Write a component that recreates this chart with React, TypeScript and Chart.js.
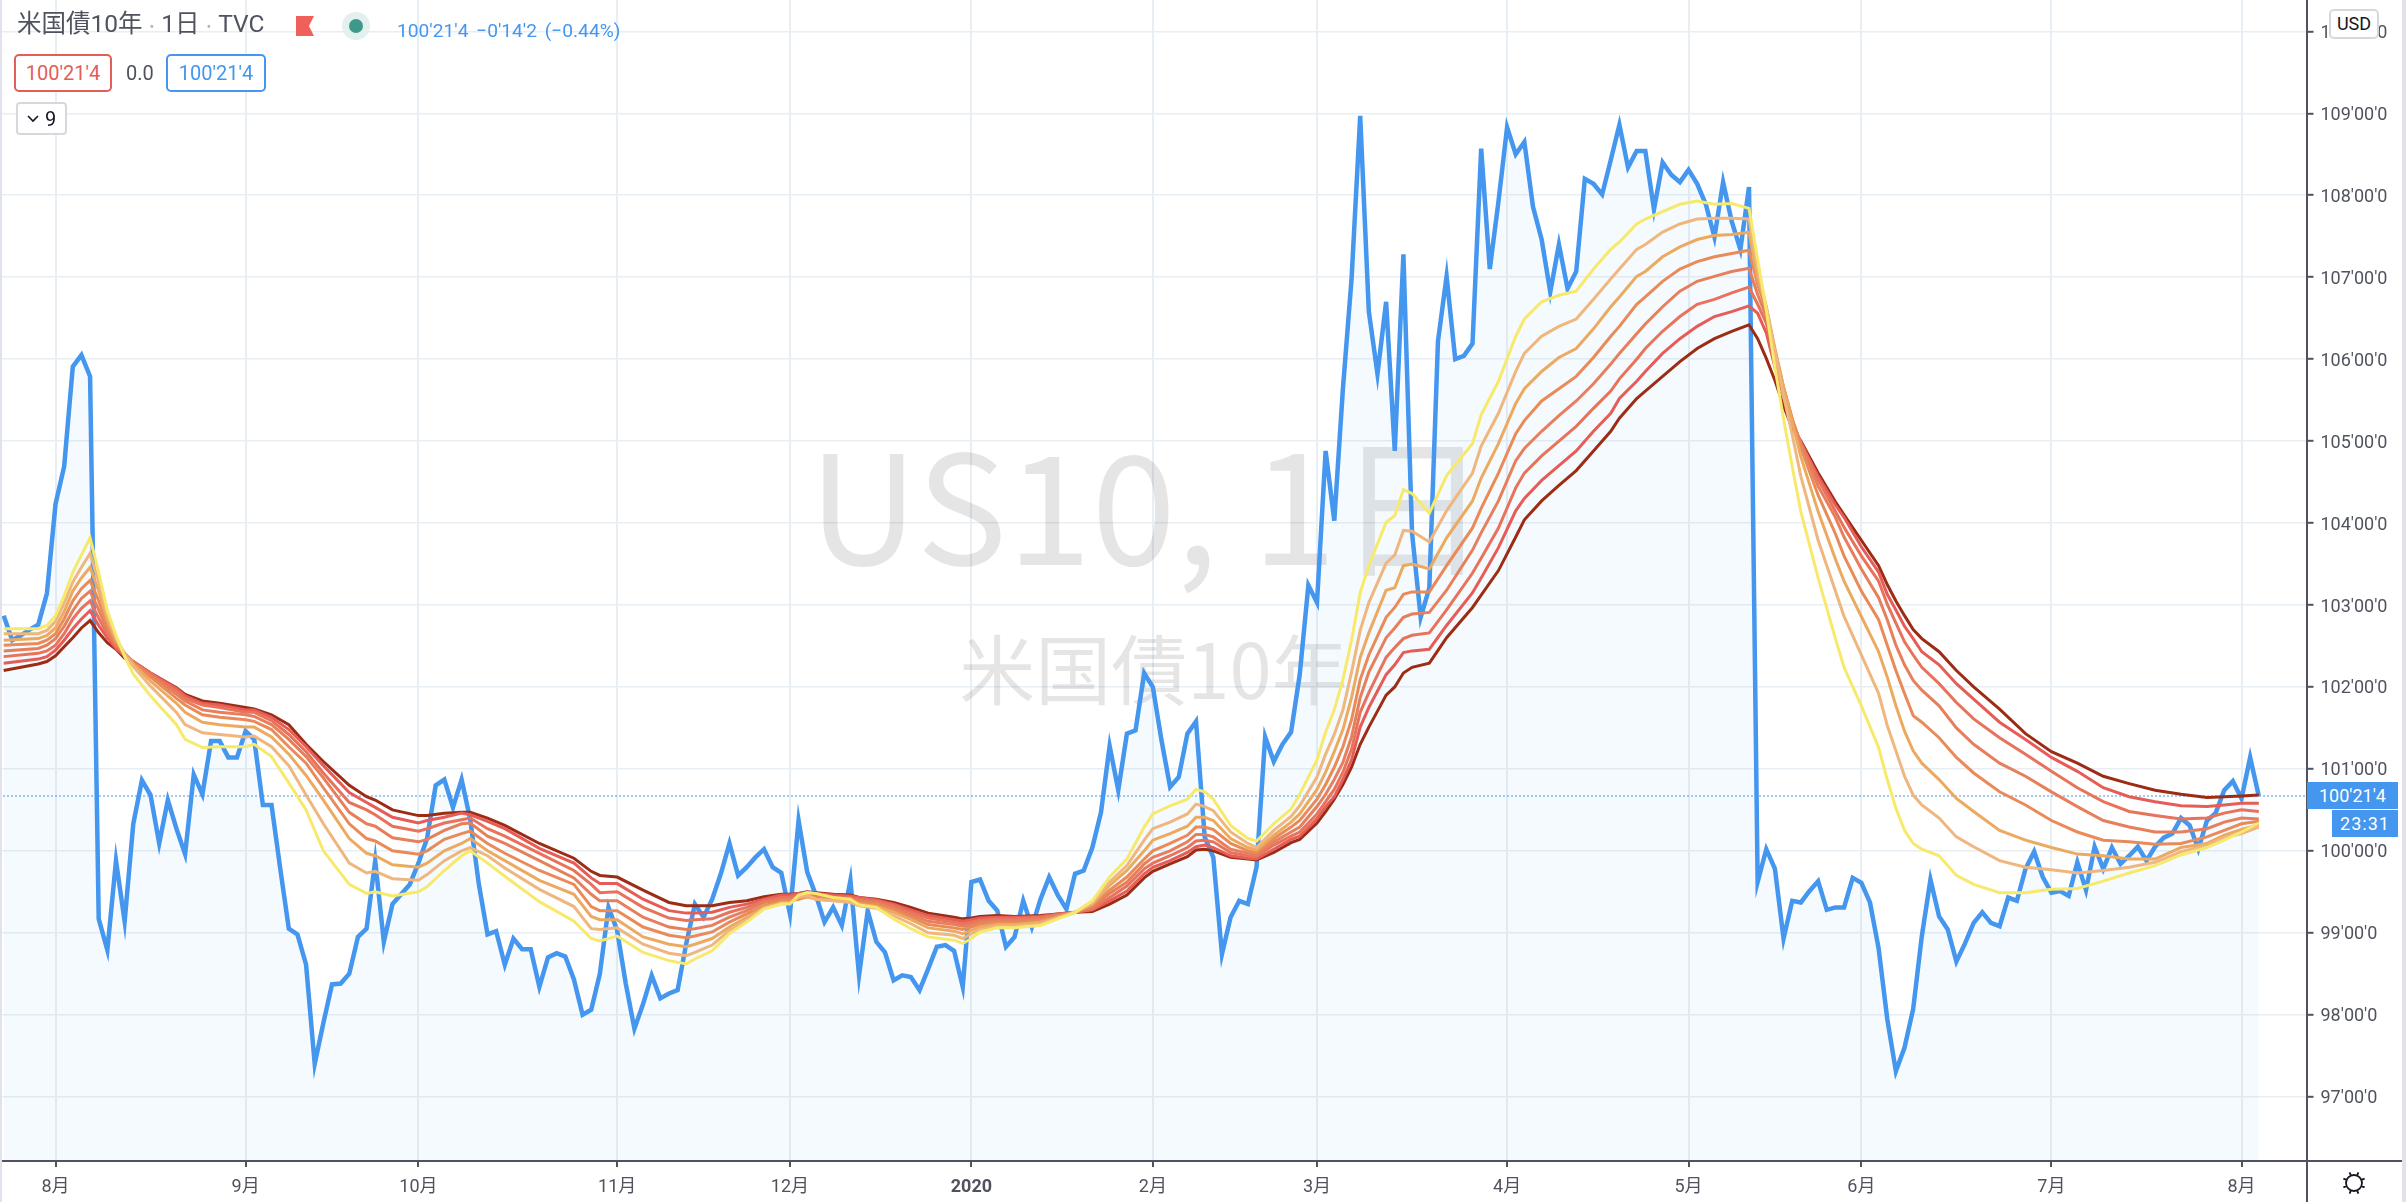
import React, { useEffect, useRef } from "react";
import Chart from "chart.js/auto";

// ---- data ----
const monthTickIdx = [6, 28, 48, 71, 91, 112, 133, 152, 174, 195, 215, 237, 259];
const monthLabels = ["8月", "9月", "10月", "11月", "12月", "2020", "2月", "3月", "4月", "5月", "6月", "7月", "8月"];
const priceTicks = [97, 98, 99, 100, 101, 102, 103, 104, 105, 106, 107, 108, 109, 110];
const lastPrice = 100.669;

const closeValues = [
  102.87,102.57,102.63,102.70,102.76,103.14,104.23,104.69,105.91,106.05,
  105.79,99.17,98.79,99.88,99.14,100.33,100.86,100.68,100.09,100.62,
  100.27,99.96,100.93,100.69,101.34,101.34,101.14,101.14,101.46,101.36,
  100.56,100.56,99.79,99.05,98.98,98.61,97.40,97.90,98.37,98.38,
  98.50,98.95,99.05,99.88,98.89,99.35,99.47,99.59,99.85,100.15,
  100.80,100.87,100.53,100.87,100.38,99.59,98.98,99.02,98.61,98.93,
  98.80,98.80,98.34,98.70,98.75,98.71,98.43,98.00,98.06,98.50,
  99.31,99.03,98.38,97.83,98.13,98.48,98.20,98.26,98.30,98.87,
  99.35,99.19,99.41,99.72,100.09,99.70,99.80,99.92,100.02,99.80,
  99.73,99.23,100.37,99.74,99.46,99.13,99.31,99.09,99.64,98.48,
  99.27,98.89,98.76,98.42,98.48,98.46,98.30,98.56,98.83,98.85,
  98.78,98.34,99.62,99.65,99.39,99.27,98.83,98.95,99.39,99.07,
  99.41,99.68,99.46,99.29,99.72,99.76,100.04,100.47,101.28,100.74,
  101.43,101.47,102.17,102.00,101.35,100.78,100.90,101.43,101.58,100.17,
  99.92,98.74,99.19,99.39,99.35,99.80,101.39,101.09,101.30,101.45,
  102.15,103.24,103.03,104.88,104.03,105.64,106.98,108.97,106.58,105.82,
  106.70,104.88,107.28,103.88,102.85,103.21,106.22,107.01,106.00,106.04,
  106.19,108.57,107.10,107.92,108.83,108.50,108.65,107.86,107.46,106.82,
  107.40,106.86,107.07,108.20,108.14,108.01,108.43,108.86,108.34,108.54,
  108.54,107.83,108.40,108.25,108.16,108.31,108.14,107.89,107.49,108.16,
  107.68,107.34,108.10,99.62,100.02,99.78,98.93,99.39,99.37,99.51,
  99.63,99.28,99.31,99.31,99.67,99.61,99.37,98.81,97.95,97.31,
  97.60,98.07,98.96,99.65,99.20,99.04,98.65,98.87,99.12,99.25,
  99.12,99.08,99.43,99.39,99.78,99.99,99.68,99.49,99.51,99.45,
  99.86,99.52,100.05,99.78,100.04,99.84,99.94,100.05,99.88,100.05,
  100.16,100.21,100.40,100.31,100.02,100.37,100.46,100.74,100.85,100.64,
  101.14,100.67,
];

const ribbonIdx = [
  0,4,5,6,7,8,9,10,11,12,13,14,15,17,20,21,23,25,28,29,31,33,35,37,40,42,43,45,48,49,51,53,54,56,58,62,66,68,
  69,71,74,77,79,80,82,84,86,88,90,91,92,93,94,96,98,99,101,103,105,107,110,111,112,113,115,117,120,122,124,126,128,130,132,133,135,137,138,139,140,142,144,145,147,
  149,150,152,153,154,155,156,157,158,160,161,162,163,165,167,170,171,173,175,176,178,180,182,184,186,187,189,190,192,194,196,198,200,202,
  203,204,205,206,207,208,210,212,213,215,217,218,219,220,221,222,224,226,228,231,234,237,240,243,246,249,252,255,257,259,261,
];

const ma1 = [
  102.71,102.71,102.75,102.87,103.11,103.40,103.61,103.82,103.40,102.93,102.63,102.37,102.16,101.89,101.54,101.36,101.26,101.27,101.27,101.30,101.15,100.83,100.50,100.00,99.59,99.48,99.50,99.45,99.50,99.56,99.76,99.94,100.00,99.85,99.69,99.38,99.14,98.93,
  98.90,98.96,98.76,98.66,98.62,98.68,98.78,98.99,99.13,99.29,99.35,99.35,99.46,99.49,99.48,99.43,99.41,99.34,99.31,99.17,99.05,98.95,98.91,98.87,98.93,99.01,99.06,99.06,99.09,99.17,99.25,99.39,99.68,99.90,100.29,100.45,100.55,100.63,100.75,100.72,100.63,100.31,100.15,100.12,100.33,
  100.51,100.69,101.11,101.45,101.72,102.09,102.57,103.15,103.48,104.01,104.09,104.41,104.36,104.12,104.58,104.97,105.32,105.73,106.28,106.49,106.70,106.78,106.83,107.10,107.34,107.43,107.65,107.71,107.80,107.89,107.93,107.89,107.90,107.84,
  107.22,106.60,105.90,105.27,104.69,104.14,103.33,102.59,102.24,101.77,101.26,100.87,100.52,100.25,100.09,100.02,99.94,99.70,99.59,99.49,99.49,99.53,99.54,99.63,99.73,99.82,99.95,100.04,100.13,100.23,100.34,
];
const ma2 = [
  102.65,102.65,102.69,102.80,103.02,103.28,103.46,103.63,103.28,102.87,102.60,102.40,102.25,102.01,101.69,101.54,101.44,101.42,101.39,101.40,101.27,101.04,100.68,100.33,99.85,99.73,99.75,99.66,99.64,99.71,99.88,100.00,100.04,99.94,99.79,99.53,99.32,99.05,
  99.04,99.06,98.86,98.75,98.72,98.76,98.85,99.03,99.15,99.30,99.35,99.36,99.44,99.46,99.41,99.39,99.37,99.33,99.30,99.21,99.11,99.00,98.97,98.93,98.99,99.04,99.08,99.08,99.11,99.18,99.25,99.37,99.62,99.82,100.13,100.27,100.35,100.45,100.57,100.54,100.49,100.23,100.09,100.04,100.25,
  100.42,100.55,100.90,101.18,101.42,101.72,102.18,102.69,103.03,103.51,103.61,103.91,103.90,103.77,104.15,104.61,104.94,105.34,105.85,106.07,106.28,106.40,106.49,106.73,106.98,107.10,107.34,107.40,107.55,107.65,107.71,107.72,107.72,107.71,
  107.10,106.64,106.09,105.55,105.08,104.57,103.79,103.17,102.86,102.39,101.92,101.53,101.22,100.91,100.68,100.56,100.40,100.17,100.05,99.88,99.80,99.77,99.73,99.76,99.80,99.86,99.99,100.07,100.16,100.21,100.29,
];
const ma3 = [
  102.57,102.59,102.63,102.72,102.92,103.17,103.33,103.46,103.17,102.81,102.57,102.41,102.28,102.07,101.80,101.69,101.57,101.54,101.51,101.51,101.39,101.18,100.92,100.62,100.15,99.97,99.94,99.83,99.80,99.85,100.00,100.09,100.15,100.00,99.88,99.64,99.47,99.20,
  99.16,99.16,98.95,98.86,98.83,98.86,98.93,99.07,99.19,99.31,99.37,99.37,99.43,99.44,99.41,99.39,99.39,99.35,99.32,99.25,99.16,99.06,99.02,98.99,99.03,99.07,99.10,99.10,99.13,99.19,99.25,99.35,99.58,99.76,100.00,100.13,100.21,100.30,100.41,100.41,100.37,100.15,100.04,100.01,100.19,
  100.35,100.45,100.75,100.96,101.21,101.48,101.87,102.36,102.66,103.18,103.21,103.48,103.50,103.44,103.82,104.27,104.55,104.97,105.46,105.64,105.85,106.02,106.13,106.37,106.64,106.76,107.01,107.07,107.25,107.37,107.46,107.51,107.52,107.55,
  106.99,106.64,106.13,105.66,105.23,104.81,104.14,103.56,103.29,102.86,102.43,102.12,101.77,101.46,101.22,101.07,100.87,100.64,100.48,100.25,100.13,100.04,99.96,99.94,99.90,99.90,100.04,100.09,100.19,100.26,100.32,
];
const ma4 = [
  102.51,102.53,102.57,102.65,102.83,103.05,103.20,103.30,103.05,102.75,102.54,102.41,102.29,102.12,101.86,101.78,101.66,101.63,101.60,101.58,101.48,101.27,101.07,100.77,100.33,100.15,100.12,100.00,99.96,100.00,100.14,100.21,100.24,100.09,99.97,99.76,99.59,99.32,
  99.27,99.27,99.07,98.97,98.94,98.96,99.01,99.13,99.23,99.33,99.39,99.39,99.41,99.44,99.43,99.41,99.40,99.37,99.35,99.28,99.19,99.10,99.06,99.04,99.07,99.10,99.13,99.12,99.15,99.20,99.25,99.33,99.52,99.68,99.90,100.00,100.09,100.19,100.29,100.29,100.26,100.09,100.00,99.98,100.15,
  100.29,100.37,100.63,100.81,101.02,101.27,101.60,102.09,102.39,102.85,102.97,103.13,103.16,103.16,103.48,103.94,104.18,104.61,105.09,105.25,105.49,105.64,105.79,106.02,106.28,106.40,106.67,106.76,106.95,107.10,107.19,107.25,107.29,107.33,
  106.91,106.60,106.11,105.66,105.27,104.92,104.34,103.87,103.60,103.17,102.82,102.51,102.20,101.92,101.65,101.57,101.38,101.14,100.95,100.72,100.56,100.37,100.23,100.13,100.11,100.08,100.09,100.17,100.25,100.33,100.36,
];
const ma5 = [
  102.44,102.47,102.51,102.59,102.74,102.93,103.08,103.17,102.94,102.69,102.51,102.41,102.30,102.14,101.91,101.83,101.72,101.69,101.66,101.64,101.54,101.36,101.15,100.89,100.47,100.33,100.30,100.16,100.11,100.14,100.25,100.33,100.34,100.18,100.09,99.88,99.67,99.47,
  99.39,99.39,99.19,99.07,99.04,99.05,99.09,99.19,99.27,99.37,99.41,99.41,99.44,99.46,99.44,99.43,99.41,99.39,99.37,99.30,99.22,99.14,99.10,99.08,99.10,99.13,99.15,99.15,99.17,99.21,99.25,99.31,99.48,99.62,99.84,99.92,100.00,100.11,100.20,100.20,100.17,100.02,99.97,99.96,100.11,
  100.23,100.29,100.54,100.69,100.87,101.08,101.39,101.87,102.18,102.60,102.72,102.85,102.89,102.91,103.18,103.67,103.88,104.27,104.76,104.91,105.12,105.31,105.49,105.70,105.94,106.07,106.31,106.43,106.64,106.83,106.95,107.01,107.07,107.11,
  106.79,106.52,106.05,105.65,105.27,104.96,104.45,104.07,103.83,103.44,103.09,102.82,102.51,102.27,102.08,101.96,101.77,101.50,101.30,101.07,100.91,100.72,100.54,100.37,100.29,100.23,100.23,100.27,100.35,100.40,100.39,
];
const ma6 = [
  102.37,102.41,102.44,102.51,102.65,102.83,102.96,103.05,102.84,102.64,102.50,102.40,102.31,102.16,101.95,101.86,101.78,101.75,101.69,101.69,101.59,101.42,101.21,100.95,100.59,100.50,100.44,100.30,100.24,100.27,100.34,100.38,100.40,100.27,100.18,99.97,99.76,99.59,
  99.49,99.50,99.31,99.18,99.15,99.16,99.17,99.25,99.31,99.39,99.43,99.43,99.46,99.48,99.46,99.44,99.43,99.41,99.39,99.33,99.25,99.18,99.13,99.11,99.13,99.15,99.17,99.17,99.19,99.22,99.25,99.29,99.43,99.57,99.78,99.85,99.94,100.04,100.12,100.13,100.11,99.98,99.94,99.93,100.07,
  100.18,100.23,100.45,100.60,100.75,100.96,101.24,101.69,101.93,102.36,102.48,102.59,102.63,102.66,102.94,103.39,103.57,103.94,104.43,104.61,104.82,105.00,105.18,105.40,105.61,105.76,106.00,106.13,106.34,106.52,106.67,106.73,106.81,106.88,
  106.67,106.44,105.99,105.61,105.25,104.98,104.53,104.14,103.95,103.60,103.29,103.01,102.78,102.55,102.39,102.24,102.04,101.81,101.61,101.38,101.18,100.97,100.77,100.60,100.48,100.43,100.39,100.40,100.46,100.50,100.48,
];
const ma7 = [
  102.29,102.34,102.37,102.45,102.57,102.71,102.83,102.93,102.75,102.60,102.47,102.38,102.31,102.17,101.98,101.89,101.80,101.78,101.72,101.72,101.63,101.48,101.27,101.04,100.71,100.59,100.53,100.41,100.34,100.37,100.41,100.46,100.44,100.36,100.27,100.03,99.85,99.67,
  99.60,99.60,99.41,99.27,99.24,99.24,99.25,99.31,99.35,99.41,99.46,99.46,99.48,99.49,99.48,99.46,99.45,99.43,99.40,99.35,99.28,99.21,99.16,99.14,99.16,99.18,99.19,99.19,99.20,99.23,99.25,99.28,99.39,99.51,99.72,99.80,99.88,99.98,100.05,100.07,100.04,99.94,99.91,99.90,100.02,
  100.14,100.18,100.39,100.54,100.66,100.87,101.11,101.51,101.75,102.15,102.27,102.42,102.44,102.46,102.75,103.15,103.33,103.70,104.15,104.30,104.52,104.70,104.88,105.12,105.34,105.52,105.73,105.85,106.07,106.25,106.40,106.52,106.58,106.65,
  106.56,106.32,105.90,105.55,105.21,104.98,104.57,104.22,104.07,103.71,103.40,103.13,102.94,102.74,102.59,102.43,102.27,102.04,101.85,101.57,101.36,101.14,100.97,100.77,100.66,100.60,100.55,100.54,100.56,100.58,100.58,
];
const ma8 = [
  102.20,102.28,102.31,102.38,102.49,102.60,102.72,102.81,102.66,102.54,102.46,102.35,102.31,102.17,101.99,101.91,101.83,101.80,101.75,101.73,101.66,101.54,101.30,101.09,100.80,100.66,100.62,100.50,100.43,100.43,100.46,100.47,100.47,100.40,100.31,100.09,99.91,99.75,
  99.70,99.68,99.52,99.37,99.33,99.33,99.33,99.37,99.39,99.44,99.47,99.47,99.48,99.50,99.49,99.47,99.46,99.43,99.41,99.37,99.31,99.24,99.19,99.17,99.18,99.20,99.21,99.20,99.21,99.23,99.25,99.26,99.35,99.46,99.67,99.75,99.84,99.93,100.01,100.02,100.00,99.92,99.90,99.89,99.98,
  100.10,100.14,100.34,100.48,100.63,100.81,101.02,101.30,101.51,101.90,102.00,102.17,102.24,102.29,102.60,102.97,103.12,103.42,103.83,104.04,104.27,104.46,104.64,104.88,105.12,105.28,105.52,105.61,105.79,105.97,106.13,106.25,106.34,106.42,
  106.25,106.01,105.74,105.43,105.16,105.00,104.61,104.26,104.10,103.79,103.48,103.25,103.05,102.87,102.70,102.59,102.43,102.20,102.00,101.73,101.43,101.21,101.07,100.91,100.82,100.74,100.69,100.65,100.66,100.67,100.68,
];
const ribbonSeries = [ma1, ma2, ma3, ma4, ma5, ma6, ma7, ma8];
const ribbonColors = ["#f7e96b", "#efb67e", "#ecaa60", "#e98a58", "#e77f5c", "#e8735a", "#e65c56", "#9c2c14"];

const TEXT = "#50535e";
const BLUE = "#4496ee";
const GRID = "#e8eff4";
const UI_FONT = "Roboto, 'Noto Sans CJK JP', sans-serif";

const overlayPlugin = {
  id: "overlay",
  beforeDatasetsDraw(chart: any) {
    const { ctx, chartArea: a } = chart;
    ctx.save();
    ctx.textAlign = "center";
    ctx.textBaseline = "middle";
    ctx.fillStyle = "rgba(0,0,0,0.1)";
    const cx = (a.left + a.right) / 2;
    ctx.font = "152px 'Noto Sans CJK JP', sans-serif";
    ctx.fillText("US10, 1日", cx - 5, 507);
    ctx.font = "76px 'Noto Sans CJK JP', sans-serif";
    ctx.fillText("米国債10年", cx, 670);
    ctx.restore();
  },
  afterDraw(chart: any) {
    const { ctx, chartArea: a, width, height } = chart;
    ctx.save();
    ctx.strokeStyle = TEXT;
    ctx.lineWidth = 2;
    ctx.beginPath();
    ctx.moveTo(a.right, 0);
    ctx.lineTo(a.right, height);
    ctx.moveTo(0, a.bottom);
    ctx.lineTo(width - 4, a.bottom);
    ctx.stroke();
    ctx.fillStyle = "#e0e3eb";
    ctx.fillRect(0, 0, 2, height);
    ctx.fillRect(width - 4, 0, 4, height);
    // settings (sun) icon
    const sx = 2354, sy = 1183, r = 8;
    ctx.strokeStyle = "#131722";
    ctx.lineWidth = 1.8;
    ctx.beginPath();
    ctx.arc(sx, sy, r, 0, Math.PI * 2);
    for (let k = 0; k < 8; k++) {
      const t = (k * Math.PI) / 4 + Math.PI / 8;
      ctx.moveTo(sx + Math.cos(t) * r, sy + Math.sin(t) * r);
      ctx.lineTo(sx + Math.cos(t) * (r + 3.5), sy + Math.sin(t) * (r + 3.5));
    }
    ctx.stroke();
    ctx.restore();
  },
};

const abs = (left: number, top: number, extra: React.CSSProperties = {}): React.CSSProperties => ({
  position: "absolute",
  left,
  top,
  whiteSpace: "nowrap",
  fontFamily: UI_FONT,
  lineHeight: 1,
  ...extra,
});

const pill = (left: number, width: number, color: string): React.CSSProperties =>
  abs(left, 54, {
    width,
    height: 38,
    boxSizing: "border-box",
    border: `2px solid ${color}`,
    borderRadius: 5,
    color,
    fontSize: 20,
    display: "flex",
    alignItems: "center",
    justifyContent: "center",
    background: "#fff",
  });

export default function App() {
  const ref = useRef<HTMLCanvasElement>(null);
  useEffect(() => {
    document.body.style.margin = "0";
    const ribbonSets = ribbonSeries.map((vals, k) => ({
      label: `MA${k + 1}`,
      data: ribbonIdx.map((x, j) => ({ x, y: vals[j] })),
      borderColor: ribbonColors[k],
      borderWidth: 3,
      pointRadius: 0,
      tension: 0,
      fill: false,
      order: k + 1,
    }));
    const chart = new Chart(ref.current!, {
      type: "line",
      data: {
        datasets: [
          ...ribbonSets,
          {
            label: "close",
            data: closeValues.map((y, x) => ({ x, y })),
            borderColor: BLUE,
            borderWidth: 4.5,
            borderJoinStyle: "miter",
            backgroundColor: "rgba(68,150,238,0.05)",
            fill: "start",
            pointRadius: 0,
            tension: 0,
            order: 20,
          },
          {
            label: "last",
            data: [
              { x: -1, y: lastPrice },
              { x: 267, y: lastPrice },
            ],
            borderColor: BLUE,
            borderWidth: 1,
            borderDash: [2, 2],
            pointRadius: 0,
            fill: false,
            order: 21,
          },
        ] as any,
      },
      options: {
        responsive: false,
        animation: false,
        devicePixelRatio: 1,
        layout: { autoPadding: false, padding: { right: 4, left: 0, top: 0, bottom: 0 } },
        plugins: { legend: { display: false }, tooltip: { enabled: false } },
        events: [],
        scales: {
          x: {
            type: "linear",
            min: -0.425,
            max: 266.58,
            afterBuildTicks: (s: any) => {
              s.ticks = monthTickIdx.map((value) => ({ value }));
            },
            afterFit: (s: any) => {
              s.height = 41;
              s.paddingLeft = 0;
              s.paddingRight = 0;
            },
            border: { display: false },
            grid: { color: GRID, lineWidth: 2, tickColor: TEXT, tickLength: 6, tickWidth: 2 },
            ticks: {
              autoSkip: false,
              maxRotation: 0,
              padding: 10,
              color: TEXT,
              font: (c: any) => ({
                family: UI_FONT,
                size: 18,
                weight: monthLabels[c.index] === "2020" ? "bold" : "normal",
              }),
              callback: (_v: any, i: number) => monthLabels[i],
            },
          },
          y: {
            type: "linear",
            position: "right",
            min: 96.215,
            max: 110.383,
            afterBuildTicks: (s: any) => {
              s.ticks = priceTicks.map((value) => ({ value }));
            },
            afterFit: (s: any) => {
              s.width = 95;
              s.paddingTop = 0;
              s.paddingBottom = 0;
            },
            border: { display: false },
            grid: { color: GRID, lineWidth: 1.6, tickColor: TEXT, tickLength: 6.5, tickWidth: 2 },
            ticks: {
              autoSkip: false,
              padding: 7,
              labelOffset: 2,
              color: TEXT,
              font: { family: UI_FONT, size: 18 },
              callback: (v: any) => `${v}'00'0`,
            },
          },
        },
      } as any,
      plugins: [overlayPlugin as any],
    });
    return () => chart.destroy();
  }, []);

  return (
    <div style={{ position: "absolute", left: 0, top: 0, width: 2406, height: 1202, overflow: "hidden", background: "#fff" }}>
      <canvas ref={ref} width={2406} height={1202} style={{ display: "block", width: 2406, height: 1202 }} />

      <div style={abs(17, 12, { fontSize: 24.5, color: TEXT })}>
        米国債10年<span style={{ color: "#b2b5be", margin: "0 7px", fontSize: 14 }}>•</span>1日
        <span style={{ color: "#b2b5be", margin: "0 7px", fontSize: 14 }}>•</span>TVC
      </div>
      <div
        style={{
          position: "absolute",
          left: 296,
          top: 16,
          width: 18,
          height: 20,
          background: "#f0605a",
          clipPath: "polygon(0 0,100% 0,72% 50%,100% 100%,0 100%)",
        }}
      />
      <div style={{ position: "absolute", left: 342, top: 12, width: 28, height: 28, borderRadius: 14, background: "#e4f0ee" }} />
      <div style={{ position: "absolute", left: 349, top: 19, width: 14, height: 14, borderRadius: 7, background: "#3d9a8b" }} />
      <div style={abs(397, 21, { fontSize: 19.2, color: BLUE, wordSpacing: 3 })}>{"100'21'4 −0'14'2 (−0.44%)"}</div>

      <div style={pill(14, 98, "#e25e57")}>{"100'21'4"}</div>
      <div style={abs(126, 63, { fontSize: 20, color: TEXT })}>0.0</div>
      <div style={pill(166, 100, BLUE)}>{"100'21'4"}</div>

      <div
        style={abs(16, 102, {
          width: 51,
          height: 33,
          boxSizing: "border-box",
          border: "2px solid #d6d8de",
          borderRadius: 4,
          color: "#131722",
          fontSize: 20,
          display: "flex",
          alignItems: "center",
          justifyContent: "center",
          gap: 6,
          background: "#fff",
        })}
      >
        <svg width="12" height="8" viewBox="0 0 12 8">
          <path d="M1 1 L6 6 L11 1" fill="none" stroke="#131722" strokeWidth="1.6" />
        </svg>
        <span>9</span>
      </div>

      <div
        style={abs(2329, 9, {
          width: 50,
          height: 30,
          boxSizing: "border-box",
          border: "2px solid #d6d8de",
          borderRadius: 5,
          background: "#fff",
          color: "#131722",
          fontSize: 18,
          display: "flex",
          alignItems: "center",
          justifyContent: "center",
        })}
      >
        USD
      </div>

      <div
        style={abs(2307, 782, {
          width: 91,
          height: 27,
          background: BLUE,
          color: "#fff",
          fontSize: 18,
          display: "flex",
          alignItems: "center",
          justifyContent: "flex-end",
          paddingRight: 12,
          boxSizing: "border-box",
        })}
      >
        {"100'21'4"}
      </div>
      <div
        style={abs(2332, 810, {
          width: 66,
          height: 27,
          background: BLUE,
          color: "#fff",
          fontSize: 18,
          letterSpacing: 1,
          display: "flex",
          alignItems: "center",
          justifyContent: "center",
          boxSizing: "border-box",
        })}
      >
        23:31
      </div>
    </div>
  );
}
